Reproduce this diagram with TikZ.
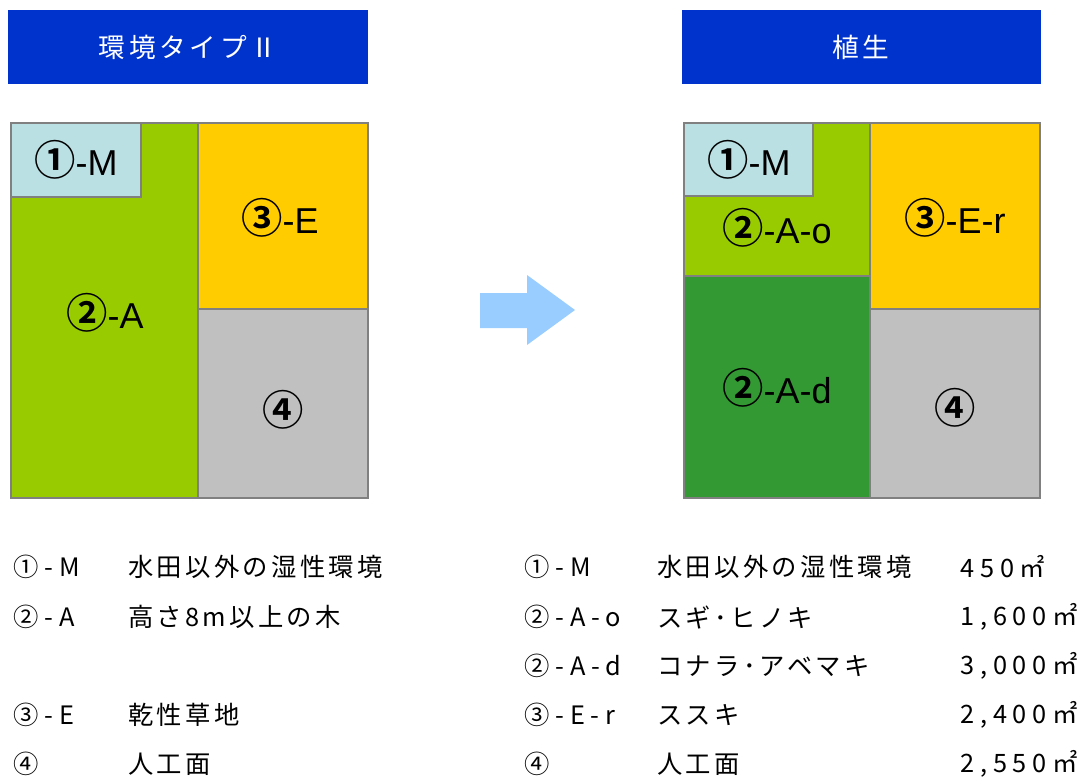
\documentclass[tikz,border=0pt]{standalone}
\usepackage{fontspec}
\setmainfont{Liberation Sans}
\newfontfamily\jpfont{Noto Sans CJK JP}[BoldFont={Noto Sans CJK JP Bold}]
\newfontfamily\jplist[LetterSpace=23]{Noto Sans CJK JP}
\newfontfamily\jpdesc[LetterSpace=13]{Noto Sans CJK JP}
\newfontfamily\jphead[LetterSpace=14]{Noto Sans CJK JP}
\definecolor{headblue}{HTML}{0033CC}
\definecolor{wetblue}{HTML}{BBE0E3}
\definecolor{treegreen}{HTML}{99CC00}
\definecolor{darkgreen}{HTML}{339933}
\definecolor{grassorange}{HTML}{FFCC00}
\definecolor{surfgray}{HTML}{C0C0C0}
\definecolor{edgegray}{HTML}{808080}
\definecolor{arrowblue}{HTML}{99CCFF}
\tikzset{
  headbox/.style={fill=headblue},
  headtext/.style={text=white, font=\jphead\fontsize{20}{24}\selectfont},
  cell/.style={draw=edgegray, line width=1.5pt},
  celltext/.style={font=\fontsize{27}{30}\selectfont},
  listtext/.style={anchor=west, inner sep=0pt, font=\jplist\fontsize{19}{22}\selectfont},
  desctext/.style={listtext, font=\jpdesc\fontsize{19}{22}\selectfont}
}
\newcommand{\cn}[1]{{\jpfont\bfseries\fontsize{31}{32}\selectfont #1}}
\begin{document}
\begin{tikzpicture}[x=0.75pt, y=-0.75pt]
  \useasboundingbox (0,0) rectangle (1085,778);
  % headers
  \fill[headbox] (8,10) rectangle (368,84);
  \node[headtext] (headL) at (188,47) {環境タイプⅡ};
  \fill[headbox] (682,10) rectangle (1041,84);
  \node[headtext] (headR) at (861,47) {植生};
  % left plan
  \fill[treegreen] (11,123) rectangle (198,498);
  \fill[grassorange] (198,123) rectangle (368,309);
  \fill[surfgray] (198,309) rectangle (368,498);
  \draw[cell] (11,123) rectangle (198,498);
  \draw[cell] (198,123) rectangle (368,309);
  \draw[cell] (198,309) rectangle (368,498);
  \draw[cell, fill=wetblue] (11,123) rectangle (141,197);
  \node[celltext] (mL) at (76,160) {\cn{①}-M};
  \node[celltext] (aL) at (105,313) {\cn{②}-A};
  \node[celltext] (eL) at (280,218) {\cn{③}-E};
  \node[celltext] (sL) at (283,410) {\cn{④}};
  % arrow
  \fill[arrowblue] (480,293) -- (527,293) -- (527,275) -- (575,310)
    -- (527,345) -- (527,328) -- (480,328) -- cycle;
  % right plan
  \fill[treegreen] (684,123) rectangle (870,276);
  \fill[darkgreen] (684,276) rectangle (870,498);
  \fill[grassorange] (870,123) rectangle (1040,309);
  \fill[surfgray] (870,309) rectangle (1040,498);
  \draw[cell] (684,123) rectangle (870,276);
  \draw[cell] (684,276) rectangle (870,498);
  \draw[cell] (870,123) rectangle (1040,309);
  \draw[cell] (870,309) rectangle (1040,498);
  \draw[cell, fill=wetblue] (684,123) rectangle (813,196);
  \node[celltext] (mR) at (749,160) {\cn{①}-M};
  \node[celltext] (aoR) at (777,228) {\cn{②}-A-o};
  \node[celltext] (adR) at (777,388) {\cn{②}-A-d};
  \node[celltext] (erR) at (955,218) {\cn{③}-E-r};
  \node[celltext] (sR) at (955,408) {\cn{④}};
  % left legend
  \node[listtext] (kL1) at (13,567) {①-M};
  \node[desctext] (dL1) at (128,567) {水田以外の湿性環境};
  \node[listtext] (kL2) at (13,617) {②-A};
  \node[desctext] (dL2) at (128,617) {高さ8m以上の木};
  \node[listtext] (kL3) at (13,715) {③-E};
  \node[desctext] (dL3) at (128,715) {乾性草地};
  \node[listtext] (kL4) at (13,764) {④};
  \node[desctext] (dL4) at (128,764) {人工面};
  % right legend
  \node[listtext] (kR1) at (524,567) {①-M};
  \node[desctext] (dR1) at (657,567) {水田以外の湿性環境};
  \node[listtext] (vR1) at (960,567) {450㎡};
  \node[listtext] (kR2) at (524,617) {②-A-o};
  \node[desctext] (dR2) at (657,617) {スギ･ヒノキ};
  \node[listtext] (vR2) at (960,617) {1,600㎡};
  \node[listtext] (kR3) at (524,666) {②-A-d};
  \node[desctext] (dR3) at (657,666) {コナラ･アベマキ};
  \node[listtext] (vR3) at (960,666) {3,000㎡};
  \node[listtext] (kR4) at (524,715) {③-E-r};
  \node[desctext] (dR4) at (657,715) {ススキ};
  \node[listtext] (vR4) at (960,715) {2,400㎡};
  \node[listtext] (kR5) at (524,764) {④};
  \node[desctext] (dR5) at (657,764) {人工面};
  \node[listtext] (vR5) at (960,764) {2,550㎡};
\end{tikzpicture}
\end{document}
